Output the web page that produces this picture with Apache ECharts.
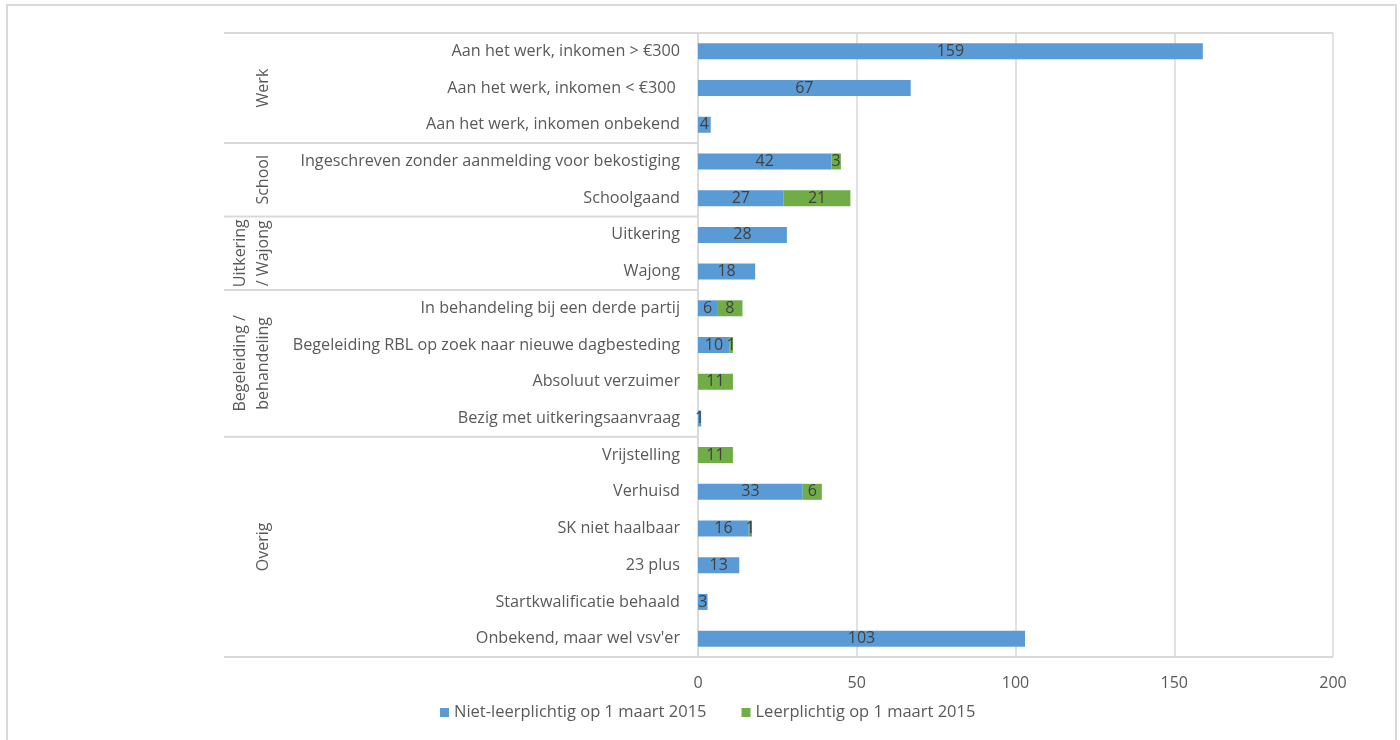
<!DOCTYPE html>
<html><head><meta charset="utf-8">
<script src="https://cdn.jsdelivr.net/npm/echarts@6/dist/echarts.min.js"></script>
<style>html,body{margin:0;padding:0;background:#fff}#c{width:1400px;height:740px}</style>
</head><body><div id="c"></div>
<script>
const categories = [
  'Aan het werk, inkomen > €300',
  'Aan het werk, inkomen < €300 ',
  'Aan het werk, inkomen onbekend',
  'Ingeschreven zonder aanmelding voor bekostiging',
  'Schoolgaand',
  'Uitkering',
  'Wajong',
  'In behandeling bij een derde partij',
  'Begeleiding RBL op zoek naar nieuwe dagbesteding',
  'Absoluut verzuimer',
  'Bezig met uitkeringsaanvraag',
  'Vrijstelling',
  'Verhuisd',
  'SK niet haalbaar',
  '23 plus',
  'Startkwalificatie behaald',
  "Onbekend, maar wel vsv'er"
];
const nietLeerplichtig = [159, 67, 4, 42, 27, 28, 18, 6, 10, 0, 1, 0, 33, 16, 13, 3, 103];
const leerplichtig     = [0, 0, 0, 3, 21, 0, 0, 8, 1, 11, 0, 11, 6, 1, 0, 0, 0];
const groupNames = ['Werk', 'School', 'Uitkering\n/ Wajong', 'Begeleiding /\nbehandeling', 'Overig'];
const groupSizes = [3, 2, 2, 4, 6];
const seriesNames = ['Niet-leerplichtig op 1 maart 2015', 'Leerplichtig op 1 maart 2015'];
const xMin = 0, xMax = 200, xStep = 50;

const FONT = 'Open Sans';
const TXT = '#595959';
const LINE = '#d9d9d9';

const chart = echarts.init(document.getElementById('c'), null, {renderer: 'canvas'});
const labelCfg = {
  show: true, position: 'inside', color: '#404040', fontFamily: FONT, fontSize: 16,
  formatter: p => (p.value ? String(p.value) : '')
};
chart.setOption({
  animation: false,
  backgroundColor: '#fff',
  textStyle: {fontFamily: FONT},
  grid: {left: 698, right: 67, top: 33, bottom: 83, containLabel: false},
  legend: {
    data: seriesNames, left: 435, top: 699, itemWidth: 9, itemHeight: 9, itemGap: 35,
    icon: 'rect', textStyle: {color: TXT, fontFamily: FONT, fontSize: 16.5}
  },
  xAxis: {
    type: 'value', min: xMin, max: xMax, interval: xStep,
    axisLine: {show: false}, axisTick: {show: false},
    splitLine: {show: true, lineStyle: {color: LINE, width: 1.5}},
    axisLabel: {color: TXT, fontFamily: FONT, fontSize: 16, margin: 18}
  },
  yAxis: {
    type: 'category', data: categories, inverse: true,
    axisLine: {show: true, lineStyle: {color: LINE, width: 1.5}},
    axisTick: {show: false},
    axisLabel: {color: TXT, fontFamily: FONT, fontSize: 16.2, margin: 18}
  },
  series: [
    {name: seriesNames[0], type: 'bar', stack: 'a', data: nietLeerplichtig, barWidth: 16,
     itemStyle: {color: '#5B9BD5'}, label: labelCfg},
    {name: seriesNames[1], type: 'bar', stack: 'a', data: leerplichtig, barWidth: 16,
     itemStyle: {color: '#70AD47'}, label: labelCfg}
  ]
});

// Group separators and labels, positioned from the axis scale
const c0 = chart.convertToPixel({yAxisIndex: 0}, 0);
const c1 = chart.convertToPixel({yAxisIndex: 0}, 1);
const band = c1 - c0;
const edge = i => c0 + (i - 0.5) * band;
const xAxis0 = chart.convertToPixel({xAxisIndex: 0}, xMin);
const xAxisEnd = chart.convertToPixel({xAxisIndex: 0}, xMax);
const leftX = 224;
const graphics = [];
graphics.push({type: 'rect', shape: {x: 7, y: 5, width: 1389, height: 800},
  style: {fill: 'none', stroke: LINE, lineWidth: 2}, silent: true});
graphics.push({type: 'line', shape: {x1: leftX, y1: edge(0), x2: xAxisEnd, y2: edge(0)},
  style: {stroke: LINE, lineWidth: 2}});
graphics.push({type: 'line', shape: {x1: leftX, y1: edge(categories.length), x2: xAxisEnd, y2: edge(categories.length)},
  style: {stroke: LINE, lineWidth: 2}});
let start = 0;
groupNames.forEach((g, gi) => {
  const end = start + groupSizes[gi];
  if (gi < groupNames.length - 1) {
    graphics.push({type: 'line', shape: {x1: leftX, y1: edge(end), x2: xAxis0, y2: edge(end)},
      style: {stroke: LINE, lineWidth: 2}});
  }
  const cy = (edge(start) + edge(end)) / 2;
  const lines = g.split('\n').length;
  graphics.push({type: 'text', x: lines > 1 ? 252 : 263, y: cy, rotation: Math.PI / 2,
    style: {text: g, fill: TXT, font: '16px "' + FONT + '"', align: 'center', verticalAlign: 'middle', lineHeight: 23}});
  start = end;
});
chart.setOption({graphic: graphics});
</script></body></html>
